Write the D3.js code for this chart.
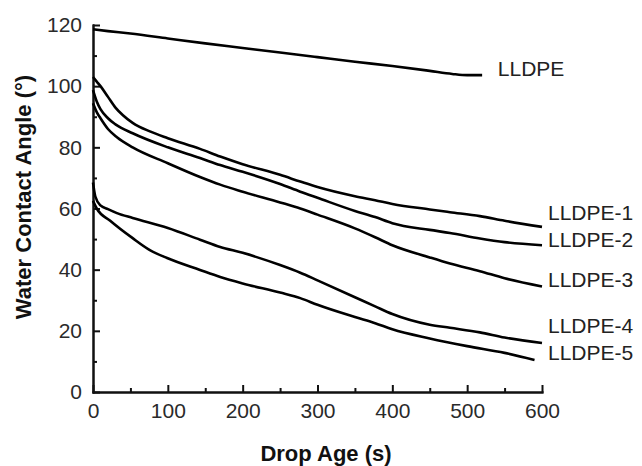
<!DOCTYPE html>
<html>
<head>
<meta charset="utf-8">
<script src="https://cdn.jsdelivr.net/npm/d3@7"></script>
<style>
  body { margin: 0; background: #fff; }
  svg { display: block; font-family: "Liberation Sans", Arial, sans-serif; }
  .axis path, .axis line { stroke: #111; stroke-width: 2px; }
  .axis text { font-size: 21px; fill: #2a2a2a; }
  .curve { fill: none; stroke: #000; stroke-width: 2.6px; }
  .lbl { font-size: 21px; fill: #222; }
  .title { font-size: 22px; font-weight: bold; fill: #111; }
</style>
</head>
<body>
<svg id="chart" width="642" height="466"></svg>
<script>
// ---- data: [drop age (s), contact angle (deg)] ----
var names = ["LLDPE", "LLDPE-1", "LLDPE-2", "LLDPE-3", "LLDPE-4", "LLDPE-5"];

var lldpe = [[0,118.6],[20,118],[50,117.2],[100,115.6],[150,114],[200,112.5],[250,111],
  [300,109.5],[350,108],[400,106.6],[450,105],[480,104],[500,103.6],[520,103.6]];

var lldpe1 = [[0,103],[5,101.5],[10,100],[20,96.5],[30,93],[40,90.5],[53,88],[76,85.2],
  [100,83],[143,79.5],[170,77],[200,74.5],[250,71],[277,68.8],[300,67],[350,64],[377,62.7],
  [400,61.5],[450,59.7],[477,58.8],[517,57.5],[550,56],[600,54]];

var lldpe2 = [[0,98.7],[5,95],[10,92.5],[20,89.5],[30,87.5],[53,84.6],[100,80],[143,76.5],
  [170,74.2],[200,72],[250,68],[277,65.5],[300,63.5],[350,59.2],[377,57.2],[400,55.2],
  [450,53],[477,52],[517,50.2],[550,49],[600,48]];

var lldpe3 = [[0,94.4],[5,91.5],[10,89.5],[20,86],[32,83.3],[53,80],[100,74.8],[143,70.3],
  [170,67.8],[200,65.5],[250,62],[277,60],[300,58],[350,53.5],[377,50.6],[400,48],
  [450,44],[477,42],[517,39.5],[550,37.2],[600,34.5]];

var lldpe4 = [[0,68.5],[3,64],[10,61],[20,59.8],[32,58.5],[53,56.9],[100,53.6],[143,49.8],
  [170,47.4],[200,45.5],[250,41.5],[277,39],[300,36.5],[350,31],[377,28],[400,25.5],
  [450,22],[477,21],[517,19.5],[550,17.8],[600,16]];

var lldpe5 = [[0,62.5],[5,60],[23,56],[53,50.3],[76,46.4],[99,43.8],[143,39.9],[170,37.6],
  [200,35.5],[250,32.5],[277,30.7],[300,28.5],[350,24.5],[377,22.5],[400,20.5],
  [450,17.5],[500,15],[550,12.8],[590,10.5]];

var series = [lldpe, lldpe1, lldpe2, lldpe3, lldpe4, lldpe5];

// where each label sits, in data units [s, deg]
var labelAt = [[541,105.9],[608,58.8],[608,50],[608,36.9],[608,21.9],[608,13]];

var xMajor = [0, 100, 200, 300, 400, 500, 600];
var xMinor = [50, 150, 250, 350, 450, 550];
var yMajor = [0, 20, 40, 60, 80, 100, 120];
var yMinor = [10, 30, 50, 70, 90, 110];

// ---- scales ----
var svg = d3.select("#chart");
var x = d3.scaleLinear().domain([0, 600]).range([93, 542]);
var y = d3.scaleLinear().domain([0, 120]).range([392, 25]);

// minor ticks (inward)
svg.append("g")
  .attr("class", "axis")
  .attr("transform", "translate(0," + y(0) + ")")
  .call(d3.axisBottom(x).tickValues(xMinor).tickSizeInner(-4).tickSizeOuter(0).tickFormat(""));

svg.append("g")
  .attr("class", "axis")
  .attr("transform", "translate(" + x(0) + ",0)")
  .call(d3.axisLeft(y).tickValues(yMinor).tickSizeInner(-4).tickSizeOuter(0).tickFormat(""));

// major ticks + labels
svg.append("g")
  .attr("class", "axis")
  .attr("transform", "translate(0," + y(0) + ")")
  .call(d3.axisBottom(x).tickValues(xMajor).tickSizeInner(-7).tickSizeOuter(0).tickPadding(11));

svg.append("g")
  .attr("class", "axis")
  .attr("transform", "translate(" + x(0) + ",0)")
  .call(d3.axisLeft(y).tickValues(yMajor).tickSizeInner(-7).tickSizeOuter(0).tickPadding(11));

svg.selectAll(".axis .domain").attr("stroke-linecap", "square");

// curves
var line = d3.line()
  .x(function(d) { return x(d[0]); })
  .y(function(d) { return y(d[1]); })
  .curve(d3.curveMonotoneX);

svg.selectAll(".curve")
  .data(series)
  .enter().append("path")
  .attr("class", "curve")
  .attr("d", line);

// series labels
svg.selectAll(".lbl")
  .data(names)
  .enter().append("text")
  .attr("class", "lbl")
  .attr("x", function(d, i) { return x(labelAt[i][0]); })
  .attr("y", function(d, i) { return y(labelAt[i][1]); })
  .attr("dy", "0.36em")
  .text(function(d) { return d; });

// axis titles
svg.append("text")
  .attr("class", "title")
  .attr("x", 326)
  .attr("y", 461)
  .attr("text-anchor", "middle")
  .text("Drop Age (s)");

svg.append("text")
  .attr("class", "title")
  .attr("transform", "translate(31,197) rotate(-90)")
  .attr("text-anchor", "middle")
  .text("Water Contact Angle (°)");
</script>
</body>
</html>
